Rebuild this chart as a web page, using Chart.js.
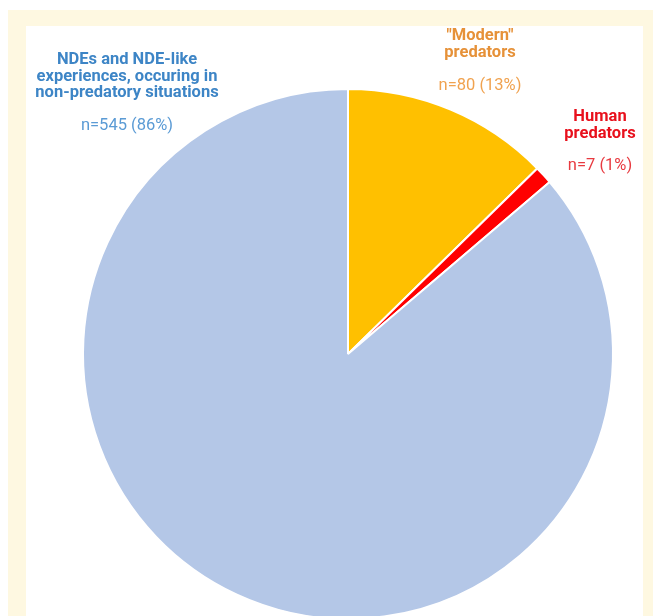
<!DOCTYPE html>
<html>
<head>
<meta charset="utf-8">
<script src="https://cdn.jsdelivr.net/npm/chart.js@4"></script>
<style>
  html, body { margin: 0; padding: 0; background: #fff; overflow: hidden; width: 653px; height: 616px; }
  #cream { position: absolute; left: 8px; top: 10px; width: 645px; height: 640px; background: #fef8e1; }
  #panel { position: absolute; left: 26px; top: 26px; width: 617px; height: 640px; background: #fff; }
  #wrap { position: absolute; left: 0; top: 0; width: 653px; height: 640px; }
</style>
</head>
<body>
<div id="cream"></div>
<div id="panel"></div>
<div id="wrap"><canvas id="pieChart" width="653" height="640"></canvas></div>
<script>
const categories = ['"Modern" predators', "Human predators", "NDEs and NDE-like experiences, occuring in non-predatory situations"];
const counts = [80, 7, 545];
const percents = [13, 1, 86];
const sliceColors = ["#ffc000", "#ff0000", "#b4c7e7"];

// label text blocks (title lines + count line)
const labelLines = [
  ['"Modern"', "predators"],
  ["Human", "predators"],
  ["NDEs and NDE-like", "experiences, occuring in", "non-predatory situations"]
];
const labelPlaces = [
  { x: 480, y: 36, gap: 33, title: "#e69138", sub: "#f0a24f" },
  { x: 600, y: 117, gap: 32, title: "#e8101c", sub: "#e83a40" },
  { x: 127, y: 60, gap: 33, title: "#3d85c6", sub: "#5b9bd5" }
];

const labelPlugin = {
  id: "sliceLabels",
  afterDraw(chart) {
    const ctx = chart.ctx;
    ctx.save();
    ctx.textAlign = "center";
    ctx.textBaseline = "middle";
    labelLines.forEach((lines, i) => {
      const p = labelPlaces[i];
      ctx.fillStyle = p.title;
      ctx.font = "bold 16.5px Roboto";
      lines.forEach((t, j) => ctx.fillText(t, p.x, p.y + j * 16.5));
      ctx.fillStyle = p.sub;
      ctx.font = "16.5px Roboto";
      const lastY = p.y + (lines.length - 1) * 16.5 + p.gap;
      ctx.fillText("n=" + counts[i] + " (" + percents[i] + "%)", p.x, lastY);
    });
    ctx.restore();
  }
};

const ctx = document.getElementById("pieChart").getContext("2d");
new Chart(ctx, {
  type: "pie",
  data: {
    labels: categories,
    datasets: [
      {
        data: counts,
        backgroundColor: sliceColors,
        borderColor: "#ffffff",
        borderWidth: 2,
      },
    ],
  },
  options: {
    responsive: false,
    animation: false,
    layout: {
      padding: { left: 82, right: 39, top: 88, bottom: 20 },
    },
    plugins: {
      legend: { display: false },
      tooltip: { enabled: false },
    },
  },
  plugins: [labelPlugin],
});
</script>
</body>
</html>
